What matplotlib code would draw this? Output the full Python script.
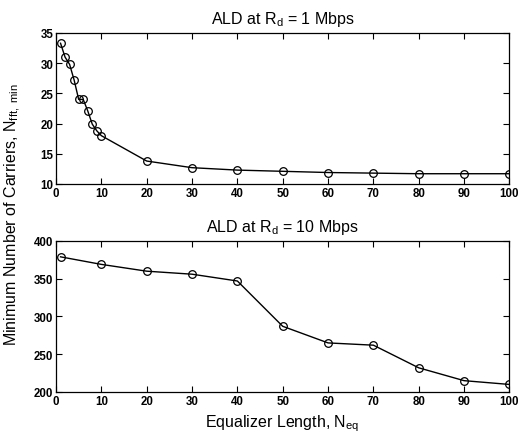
import matplotlib
matplotlib.use("Agg")
import matplotlib.pyplot as plt

plt.rcParams['font.family'] = ['Liberation Sans', 'DejaVu Sans']
plt.rcParams['mathtext.fontset'] = 'custom'
plt.rcParams['mathtext.rm'] = 'Liberation Sans'
plt.rcParams['mathtext.it'] = 'Liberation Sans'

# data
neq_1 = [1, 2, 3, 4, 5, 6, 7, 8, 9, 10, 20, 30, 40, 50, 60, 70, 80, 90, 100]
nfft_1 = [33.3, 31.0, 29.8, 27.2, 24.0, 24.0, 22.1, 19.9, 18.8, 18.0,
          13.8, 12.7, 12.3, 12.1, 11.9, 11.8, 11.7, 11.7, 11.7]
neq_10 = [1, 10, 20, 30, 40, 50, 60, 70, 80, 90, 100]
nfft_10 = [379, 369, 360, 356, 347, 287, 265, 262, 232, 215, 210]

xticks = list(range(0, 101, 10))
yticks_1 = [10, 15, 20, 25, 30, 35]
yticks_10 = [200, 250, 300, 350, 400]

fig = plt.figure(figsize=(5.2, 4.39), dpi=100)
ax1 = fig.add_axes([0.1077, 0.5786, 0.872, 0.344])
ax2 = fig.add_axes([0.1077, 0.1048, 0.872, 0.344])


def style(ax, yticks, title):
    ax.set_xlim(0, 100)
    ax.set_ylim(yticks[0], yticks[-1])
    ax.set_xticks(xticks)
    ax.set_yticks(yticks)
    ax.tick_params(direction='in', top=True, right=True, length=4,
                   width=0.8, labelsize=8.3, pad=2)
    for lab in ax.get_xticklabels() + ax.get_yticklabels():
        lab.set_fontweight('bold')
    for sp in ax.spines.values():
        sp.set_linewidth(0.9)
    ax.set_title(title, fontsize=11.5, pad=7)


ax1.plot(neq_1, nfft_1, '-o', color='black', lw=1.0, ms=5.5,
         mfc='none', mew=0.9)
style(ax1, yticks_1, r'ALD at R$_\mathregular{d}$ = 1 Mbps')

ax2.plot(neq_10, nfft_10, '-o', color='black', lw=1.0, ms=5.5,
         mfc='none', mew=0.9)
style(ax2, yticks_10, r'ALD at R$_\mathregular{d}$ = 10 Mbps')
ax2.set_xlabel(r'Equalizer Length, N$_\mathregular{eq}$', fontsize=11.5, labelpad=4)

fig.text(0.024, 0.51, r'Minimum Number of Carriers, N$_\mathregular{fft,\ min}$',
         rotation=90, ha='center', va='center', fontsize=11.5)

fig.savefig('out.png', dpi=100)
